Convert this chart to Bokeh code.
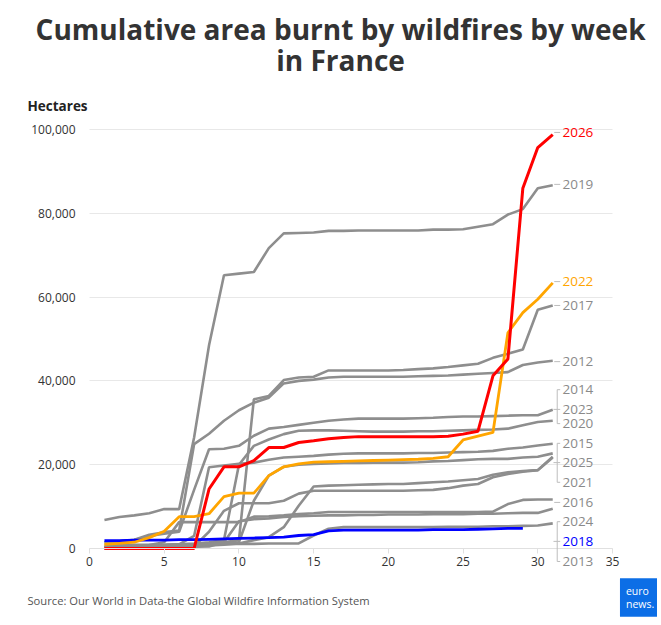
from bokeh.core.properties import value
from bokeh.embed import file_html
from bokeh.models import Arrow, ColumnDataSource, Label, LabelSet, NumeralTickFormatter, Range1d
from bokeh.plotting import figure
from bokeh.resources import INLINE

weeks = list(range(1, 32))

# cumulative hectares burnt, week 1 .. 31
area_2026 = [0, 0, 0, 0, 0, 0, 0, 14200, 19500, 19500, 21000, 24100, 24100, 25300, 25700, 26200,
             26500, 26700, 26700, 26700, 26700, 26700, 26700, 26800, 27300, 28000, 41200, 45200,
             86000, 95700, 98800]
area_2019 = [6800, 7500, 7900, 8400, 9400, 9400, 26500, 48500, 65200, 65600, 66000, 71700, 75200,
             75300, 75400, 75800, 75800, 75900, 75900, 75900, 75900, 75900, 76100, 76100, 76200,
             76800, 77400, 79700, 81000, 86000, 86700]
area_2022 = [1000, 1200, 1500, 2600, 4100, 7600, 7600, 8300, 12400, 13200, 13200, 17400, 19500,
             20200, 20600, 20700, 20800, 20900, 21000, 21100, 21200, 21300, 21500, 21900, 25900,
             26800, 27700, 51500, 56300, 59500, 63400]
area_2017 = [300, 300, 400, 500, 600, 700, 900, 1200, 1500, 2000, 35600, 36400, 40200, 40800, 41000,
             42500, 42500, 42500, 42500, 42500, 42600, 42800, 43000, 43300, 43700, 44100, 45500,
             46500, 47500, 57000, 58000]
area_2012 = [1500, 1700, 2100, 3300, 3900, 4300, 24900, 27400, 30500, 33000, 34800, 36000, 39400,
             40000, 40300, 40800, 41000, 41000, 41000, 41000, 41000, 41100, 41200, 41300, 41500,
             41700, 41900, 42100, 43800, 44400, 44800]
area_2014 = [0, 0, 100, 100, 200, 300, 500, 4000, 9000, 10800, 10800, 10800, 11400, 13100, 13800,
             13800, 13800, 13800, 13800, 13800, 13800, 13900, 14000, 14400, 15000, 15400, 17000,
             17800, 18300, 18700, 21900]
area_2023 = [1500, 1700, 2000, 3000, 3500, 4000, 14000, 23700, 23800, 24500, 26900, 28600, 29000,
             29500, 30000, 30500, 30800, 31000, 31000, 31000, 31000, 31100, 31200, 31400, 31500,
             31500, 31600, 31700, 31800, 31800, 33100]
area_2020 = [400, 500, 600, 700, 800, 1000, 1200, 1500, 2000, 20000, 24500, 26000, 27300, 28100,
             28200, 28200, 28100, 28000, 27900, 27900, 27900, 28000, 28000, 28100, 28200, 28300,
             28400, 28600, 29400, 30200, 30500]
area_2015 = [300, 400, 500, 600, 800, 1000, 3000, 19400, 19800, 20200, 20500, 21200, 21700, 21900,
             22100, 22400, 22600, 22700, 22700, 22700, 22700, 22800, 22800, 22900, 23000, 23100,
             23300, 23800, 24100, 24600, 25000]
area_2025 = [200, 300, 400, 500, 600, 700, 800, 1000, 1200, 1500, 11400, 17400, 19500, 20000, 20200,
             20300, 20400, 20400, 20500, 20500, 20500, 20600, 20800, 20900, 21100, 21300, 21400,
             21400, 21700, 21900, 22700]
area_2021 = [100, 100, 200, 200, 300, 400, 500, 700, 900, 1200, 2000, 2700, 5100, 10200, 14800,
             15000, 15100, 15200, 15300, 15400, 15400, 15600, 15800, 16000, 16300, 16600, 17600,
             18200, 18500, 18700, 21700]
area_2016 = [200, 300, 500, 800, 1500, 6300, 6300, 6300, 6300, 6300, 7600, 7700, 7900, 8200, 8400,
             8700, 8700, 8700, 8700, 8700, 8700, 8700, 8700, 8700, 8700, 8700, 8800, 10600, 11600,
             11700, 11700]
area_2024 = [100, 100, 200, 200, 300, 300, 400, 500, 1500, 6500, 7000, 7200, 7500, 7700, 7800, 7900,
             7900, 8000, 8000, 8100, 8100, 8100, 8200, 8200, 8200, 8300, 8300, 8400, 8500, 8500, 9500]
area_2013 = [800, 800, 900, 900, 900, 1000, 1000, 1000, 1100, 1100, 1100, 1200, 1200, 1200, 3100,
             4700, 5100, 5100, 5100, 5100, 5100, 5100, 5100, 5200, 5200, 5200, 5300, 5300, 5400,
             5500, 6000]
# 2018 only runs to week 29
area_2018 = [1900, 1900, 2000, 2000, 2000, 2100, 2100, 2200, 2300, 2400, 2500, 2600, 2700, 3100,
             3300, 4200, 4400, 4400, 4400, 4400, 4400, 4400, 4500, 4500, 4500, 4600, 4700, 4800, 4800]

y_ticks = [0, 20000, 40000, 60000, 80000, 100000]
x_ticks = [0, 5, 10, 15, 20, 25, 30, 35]

# end labels, top to bottom (spread out like the original so they don't collide)
label_years = ["2026", "2019", "2022", "2017", "2012", "2014", "2023", "2020",
               "2015", "2025", "2021", "2016", "2024", "2018", "2013"]
label_pos = [99300, 86900, 63700, 58000, 44600, 37900, 33200, 29800,
             25100, 20500, 15800, 11000, 6400, 1700, -3100]

GREY = "#8e8e8e"
highlight = {"2026": "#ff0000", "2022": "#ffa500", "2018": "#0000ff"}

W, H = 657, 621
# the frame fills the whole canvas; the axes sit at x=0 / y=0 inside it,
# so the titles and notes around the chart can be placed in data units
px_x = 523 / 35        # pixels per week
px_y = 419 / 100000    # pixels per hectare
x0 = -89 / px_x
y0 = -(H - 548) / px_y

p = figure(
    width=W,
    height=H,
    x_range=Range1d(x0, x0 + W / px_x),
    y_range=Range1d(y0, y0 + H / px_y),
    output_backend="svg",
    toolbar_location=None,
    min_border=0,
)
p.title.visible = False
p.outline_line_color = None
p.xgrid.grid_line_color = None

grid = p.ygrid[0]
grid.ticker = y_ticks
grid.grid_line_color = "#e8e8e8"
if "cross_bounds" in grid.properties():
    grid.cross_bounds = (0, 35)
else:
    grid.grid_line_color = None
    p.segment(x0=[0] * len(y_ticks), y0=y_ticks, x1=[35] * len(y_ticks), y1=y_ticks,
              line_color="#e8e8e8", line_width=1)

p.yaxis.fixed_location = 0
p.yaxis.ticker = y_ticks
p.yaxis.formatter = NumeralTickFormatter(format="0,0")
p.yaxis.axis_line_color = None
p.yaxis.major_tick_line_color = None
p.yaxis.minor_tick_line_color = None
p.yaxis.major_label_standoff = 8

p.xaxis.fixed_location = 0
p.xaxis.bounds = (0, 35)
p.xaxis.ticker = x_ticks
p.xaxis.axis_line_color = "#e0e0e0"
p.xaxis.major_tick_line_color = "#e0e0e0"
p.xaxis.major_tick_in = 0
p.xaxis.major_tick_out = 5
p.xaxis.minor_tick_line_color = None
p.xaxis.major_label_standoff = 3

for ax in (p.xaxis, p.yaxis):
    ax.major_label_text_font = "Open Sans"
    ax.major_label_text_font_size = "12px"
    ax.major_label_text_color = "#333333"

greys = {
    "2012": area_2012, "2013": area_2013, "2014": area_2014, "2015": area_2015,
    "2016": area_2016, "2017": area_2017, "2019": area_2019, "2020": area_2020,
    "2021": area_2021, "2023": area_2023, "2024": area_2024, "2025": area_2025,
}
for yr, vals in greys.items():
    p.line(weeks, vals, line_color=GREY, line_width=2.6)

p.line(weeks[:len(area_2018)], area_2018, line_color=highlight["2018"], line_width=2.8)
p.line(weeks, area_2022, line_color=highlight["2022"], line_width=2.8)
p.line(weeks, area_2026, line_color=highlight["2026"], line_width=3)

# year labels at the end of the lines
label_src = ColumnDataSource(dict(
    x=[31.65] * len(label_years),
    y=label_pos,
    text=label_years,
    color=[highlight.get(y, "#8a8a8a") for y in label_years],
))
p.add_layout(LabelSet(x="x", y="y", text="text", source=label_src, text_color="color",
                      text_font=value("Open Sans"), text_font_size="13.5px",
                      text_baseline="middle"))

# connectors: single ticks for lone labels, brackets for crowded groups
groups = [[0], [1], [2], [3], [4], [5, 6, 7], [8, 9, 10], [11], [12, 13, 14]]
xb = 31.3
seg = dict(x0=[], y0=[], x1=[], y1=[])


def add(xa, ya, xc, yc):
    seg["x0"].append(xa)
    seg["y0"].append(ya)
    seg["x1"].append(xc)
    seg["y1"].append(yc)


for g in groups:
    if len(g) == 1:
        add(31.1, label_pos[g[0]], 31.5, label_pos[g[0]])
        continue
    add(xb, label_pos[g[0]], xb, label_pos[g[-1]])
    for i in g:
        add(xb, label_pos[i], xb + 0.2, label_pos[i])
    mid = label_pos[g[len(g) // 2]]
    add(31.05, mid, xb, mid)

p.add_layout(Arrow(x_start="x0", y_start="y0", x_end="x1", y_end="y1", start=None, end=None,
                   source=ColumnDataSource(seg), line_color="#bdbdbd", line_width=1))

# titles and notes
title_kw = dict(text_font="Open Sans", text_font_style="bold", text_color="#333333",
                text_align="center", text_baseline="alphabetic", text_font_size="28px")
p.add_layout(Label(x=16.8, y=123900, text="Cumulative area burnt by wildfires by week", **title_kw))
p.add_layout(Label(x=16.8, y=116500, text="in France", **title_kw))
p.add_layout(Label(x=-4.15, y=105700, text="Hectares", text_font="Open Sans",
                   text_font_style="bold", text_font_size="13.5px", text_color="#222222",
                   text_baseline="alphabetic"))
p.add_layout(Label(x=-4.15, y=-12400, text="Source: Our World in Data-the Global Wildfire Information System",
                   text_font="Open Sans", text_font_size="11.2px", text_color="#555555",
                   text_baseline="middle"))
p.add_layout(Label(x=35.5, y=-11700, text="euro\nnews.", text_font="Open Sans",
                   text_font_size="10.5px", text_color="white", text_baseline="middle",
                   text_line_height=0.9, background_fill_color="#0c6ee6", padding=6))

open("out.html", "w").write(file_html(p, INLINE))
